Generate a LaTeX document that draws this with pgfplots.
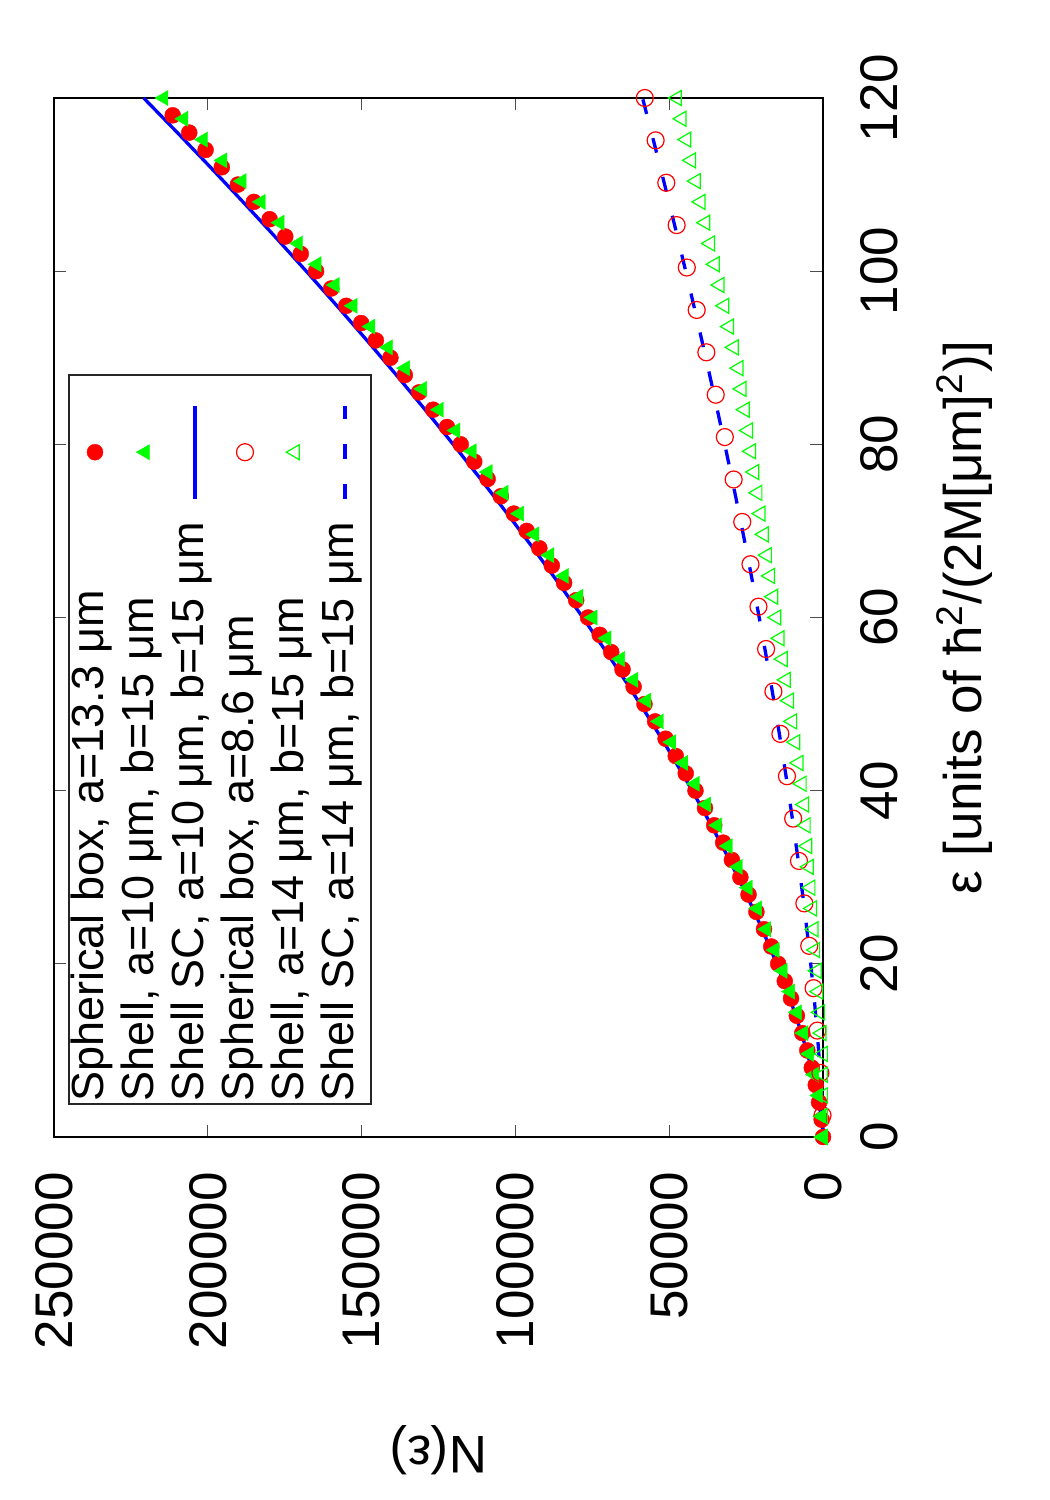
\documentclass[border=0pt]{standalone}
\usepackage{fontspec}
\setmainfont{Liberation Sans}
\usepackage{pgfplots}
\pgfplotsset{compat=1.18}
\definecolor{gpred}{RGB}{255,0,0}
\definecolor{gpgreen}{RGB}{0,255,0}
\definecolor{gpblue}{RGB}{0,0,255}
\pgfplotsset{
  mylinelegend/.style={legend image code/.code={\path[draw=none,fill=none] (0pt,0pt) -- (61pt,0pt); \draw[##1] (0pt,0pt) -- (46.5pt,0pt);}},
  mymarklegend/.style={legend image code/.code={\path[draw=none,fill=none] (0pt,0pt) -- (61pt,0pt); \draw[##1] plot coordinates {(23.25pt,0pt)};}},
}
\begin{document}
\begin{tikzpicture}
\begin{scope}[rotate=90,transform shape]
\begin{axis}[
  at={(0pt,0pt)}, anchor=south west,
  scale only axis, width=519.5pt, height=384.5pt,
  xmin=0, xmax=120, ymin=0, ymax=250000,
  xtick={0,20,40,60,80,100,120},
  xticklabels={0,20,40,60,80,100,120},
  ytick={0,50000,100000,150000,200000,250000},
  yticklabels={0,50000,100000,150000,200000,250000},
  scaled y ticks=false,
  /pgf/number format/assume math mode=true,
  tick align=inside,
  xtick pos=both, ytick pos=both,
  xticklabel pos=lower, yticklabel pos=left,
  major tick length=6.25pt,
  every tick/.style={black!70, line width=0.65pt},
  axis line style={line width=1.35pt, black},
  tick label style={font=\fontsize{26.5}{31}\selectfont, inner sep=0pt},
  xticklabel style={anchor=north, yshift=-18.75pt},
  yticklabel style={anchor=east, xshift=-17.5pt},
  xlabel={ε [units of ħ\textsuperscript{2}/(2M[μm]\textsuperscript{2})]},
  ylabel={N(ε)},
  label style={font=\fontsize{26.5}{31}\selectfont, inner sep=0pt},
  xlabel style={at={(axis description cs:0.5,-0.20546)}, anchor=base},
  ylabel style={at={(axis description cs:-0.28778,0.5)}, anchor=base},
  clip=false,
  legend style={at={(0.0308,0.9818)}, anchor=north west, draw=black!85, line width=1pt, fill=white,
    inner xsep=1pt, inner ysep=0.5pt, font=\fontsize{22.5}{27}\selectfont,
    row sep=0pt, column sep=11pt,
    nodes={inner sep=0pt, text height=17pt, text depth=8pt}},
  legend cell align=left,
  legend plot pos=right,
]
\addplot[only marks, mark=*, mark size=4pt, color=gpred, mark options={line width=0.2pt}, mymarklegend] coordinates {
(0,0) (2,439) (4,1267) (6,2350) (8,3637) (10,5102) (12,6725) (14,8493) (16,10394) (18,12420)
(20,14563) (22,16819) (24,19181) (26,21645) (28,24206) (30,26862) (32,29610) (34,32445) (36,35366) (38,38371)
(40,41456) (42,44621) (44,47862) (46,51179) (48,54569) (50,58031) (52,61564) (54,65166) (56,68837) (58,72573)
(60,76376) (62,80243) (64,84173) (66,88166) (68,92220) (70,96334) (72,100508) (74,104742) (76,109033) (78,113381)
(80,117786) (82,122247) (84,126763) (86,131333) (88,135957) (90,140635) (92,145365) (94,150147) (96,154981) (98,159865)
(100,164800) (102,169785) (104,174819) (106,179903) (108,185034) (110,190214) (112,195441) (114,200716) (116,206037) (118,211405)
};
\addlegendentry{Spherical box, a=13.3 μm}

\addplot[only marks, mark=triangle*, mark size=4.35pt, color=gpgreen, mark options={line width=0.2pt}, mymarklegend] coordinates {
(0,0) (2.4,495) (4.8,1508) (7.2,2857) (9.6,4479) (12,6336) (14.4,8403) (16.8,10661) (19.2,13097) (21.6,15699)
(24,18457) (26.4,21363) (28.8,24410) (31.2,27593) (33.6,30906) (36,34344) (38.4,37903) (40.8,41579) (43.2,45369) (45.6,49269)
(48,53277) (50.4,57390) (52.8,61604) (55.2,65919) (57.6,70331) (60,74839) (62.4,79441) (64.8,84135) (67.2,88918) (69.6,93791)
(72,98750) (74.4,103795) (76.8,108924) (79.2,114136) (81.6,119429) (84,124803) (86.4,130256) (88.8,135786) (91.2,141395) (93.6,147079)
(96,152838) (98.4,158671) (100.8,164577) (103.2,170555) (105.6,176606) (108,182726) (110.4,188916) (112.8,195176) (115.2,201504) (117.6,207899)
(120,214362)
};
\addlegendentry{Shell, a=10 μm, b=15 μm}

\addplot[color=gpblue, line width=1.65pt, mylinelegend] coordinates {
(0,0) (1,168) (2,475) (4,1344) (8,3801) (12,6984) (16,10752) (20,15026) (24,19753) (28,24891)
(32,30411) (36,36288) (40,42501) (44,49033) (48,55869) (52,62996) (56,70403) (60,78079) (64,86016) (68,94205)
(72,102638) (76,111309) (80,120211) (84,129339) (88,138686) (92,148249) (96,158021) (100,168000) (104,178180) (108,188558)
(112,199130) (116,209892) (120,220842)
};
\addlegendentry{Shell SC, a=10 μm, b=15 μm}

\addplot[only marks, mark=o, mark size=4.25pt, color=gpred, mark options={line width=0.6pt}, mymarklegend] coordinates {
(2.5,157) (7.4,843) (12.29,1832) (17.19,3055) (22.08,4471) (26.98,6062) (31.88,7809) (36.77,9695) (41.67,11717) (46.56,13861)
(51.46,16126) (56.36,18505) (61.25,20985) (66.15,23574) (71.04,26256) (75.94,29040) (80.84,31916) (85.73,34876) (90.63,37928) (95.52,41059)
(100.42,44279) (105.32,47580) (110.21,50952) (115.11,54408) (120,57931)
};
\addlegendentry{Spherical box, a=8.6 μm}

\addplot[only marks, mark=triangle, mark size=4.35pt, color=gpgreen, mark options={line width=0.6pt}, mymarklegend] coordinates {
(0,0) (2.4,0) (4.8,0) (7.2,0) (9.6,0) (12,456) (14.4,970) (16.8,1483) (19.2,1997) (21.6,2510)
(24,3024) (26.4,3538) (28.8,4051) (31.2,4565) (33.6,5078) (36,5592) (38.4,6106) (40.8,6902) (43.2,7929) (45.6,8956)
(48,9984) (50.4,11011) (52.8,12038) (55.2,13065) (57.6,14092) (60,15120) (62.4,16147) (64.8,17174) (67.2,18201) (69.6,19228)
(72,20256) (74.4,21283) (76.8,22310) (79.2,23337) (81.6,24364) (84,25392) (86.4,26419) (88.8,27446) (91.2,28981) (93.6,30522)
(96,32063) (98.4,33604) (100.8,35144) (103.2,36685) (105.6,38226) (108,39767) (110.4,41308) (112.8,42848) (115.2,44389) (117.6,45930)
(120,47471)
};
\addlegendentry{Shell, a=14 μm, b=15 μm}

\addplot[color=gpblue, line width=1.65pt, dash pattern=on 7.5pt off 12.5pt, mylinelegend] coordinates {
(0,0) (1,45) (2,126) (4,357) (8,1010) (12,1855) (16,2856) (20,3992) (24,5247) (28,6613)
(32,8079) (36,9640) (40,11291) (44,13026) (48,14842) (52,16735) (56,18703) (60,20742) (64,22851) (68,25026)
(72,27266) (76,29570) (80,31935) (84,34359) (88,36843) (92,39383) (96,41979) (100,44630) (104,47334) (108,50091)
(112,52900) (116,55759) (120,58668)
};
\addlegendentry{Shell SC, a=14 μm, b=15 μm}
\end{axis}
\end{scope}
\pgfresetboundingbox
\begin{scope}[rotate=90]
\path[use as bounding box] (-181.5pt,-113.5pt) rectangle (568.5pt,411.5pt);
\end{scope}
\end{tikzpicture}
\end{document}
